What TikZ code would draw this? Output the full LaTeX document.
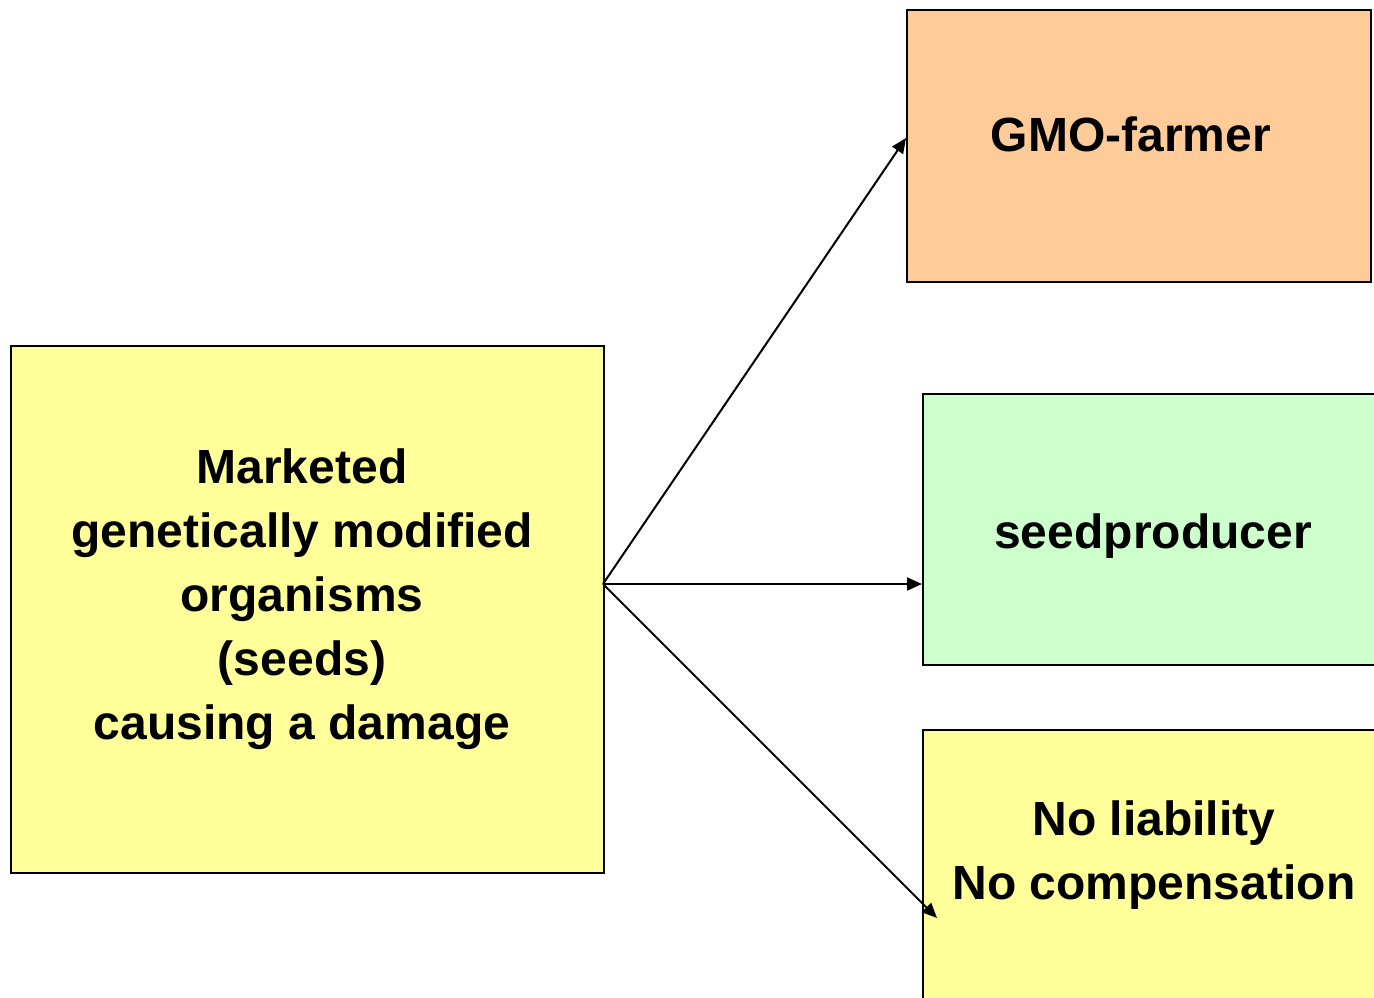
\documentclass[tikz,border=0pt]{standalone}
\usepackage{fontspec}
\setmainfont{Liberation Sans}
\usetikzlibrary{arrows.meta}
\definecolor{yel}{HTML}{FFFF99}
\definecolor{ora}{HTML}{FFCC99}
\definecolor{grn}{HTML}{CCFFCC}
\begin{document}
\begin{tikzpicture}[x=1pt,y=-1pt,
  box/.style={draw=black,line width=2.2pt,inner sep=0pt,anchor=north west},
  lbl/.style={font=\fontsize{48}{64}\selectfont\bfseries,align=center,inner sep=0pt},
  arr/.style={line width=2pt,-{Triangle[length=15pt,width=13pt]}}]
\clip (0,0) rectangle (1374,997);
\fill[white] (0,0) rectangle (1374,997);
\node[box,fill=yel,minimum width=593pt,minimum height=527pt] (L) at (10,345) {};
\node[box,fill=ora,minimum width=464pt,minimum height=272pt] (G) at (906,9) {};
\node[box,fill=grn,minimum width=470pt,minimum height=271pt] (S) at (922,393) {};
\node[box,fill=yel,minimum width=470pt,minimum height=300pt] (N) at (922,729) {};
\node[lbl] (Lt) at (302,599) {Marketed\\genetically modified\\organisms\\(seeds)\\causing a damage};
\node[lbl] (Gt) at (1131,134) {GMO-farmer};
\node[lbl] (St) at (1153,536) {seedproducer};
\node[lbl] (Nt) at (1154,855) {No liability\\No compensation};
\coordinate (src) at (603,584);
\coordinate (nend) at (937,918);
\draw[arr] (src) -- (G.west |- 0,138);
\draw[arr] (src) -- (S.west |- src);
\draw[arr] (src) -- (nend);
\end{tikzpicture}
\end{document}
